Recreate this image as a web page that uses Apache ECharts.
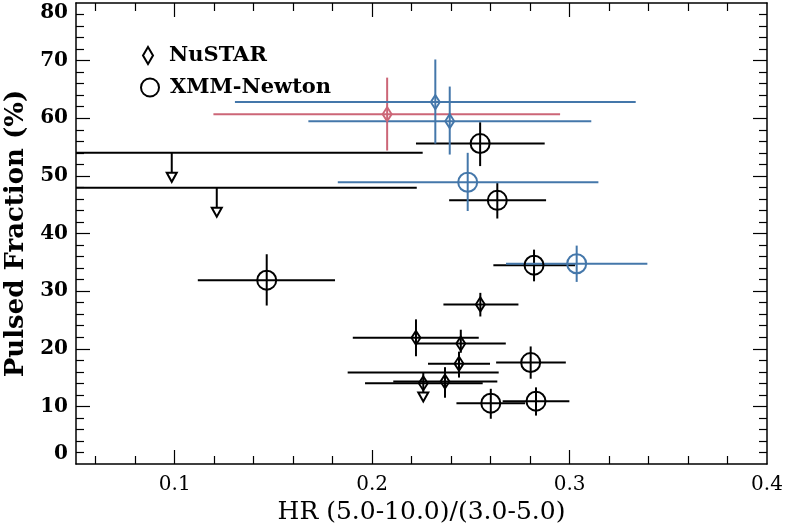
<!DOCTYPE html>
<html>
<head>
<meta charset="utf-8">
<script src="https://cdn.jsdelivr.net/npm/echarts@6/dist/echarts.min.js"></script>
<style>html,body{margin:0;padding:0;background:#fff;}#c{width:789px;height:527px;}</style>
</head>
<body>
<div id="c"></div>
<script>
// ---- data: [x, y, xLow, xHigh, yLow, yHigh] ----
const xTickLabels = [0.1, 0.2, 0.3, 0.4];
const yTickLabels = [0, 10, 20, 30, 40, 50, 60, 70, 80];

const nustarBlack = [
  [0.2548, 27.7, 0.2361, 0.2741, 25.6, 29.7],
  [0.2222, 21.9, 0.1902, 0.2540, 18.7, 25.1],
  [0.2449, 20.9, 0.2226, 0.2677, 19.3, 23.3],
  [0.2440, 17.4, 0.2283, 0.2597, 15.0, 19.5],
  [0.2369, 14.3, 0.2107, 0.2634, 11.5, 16.8],
  [0.2259, 14.0, 0.1964, 0.2560, 14.0, 14.0]
];
const nustarBlue = [
  [0.2320, 62.8, 0.1305, 0.3335, 55.6, 70.2],
  [0.2393, 59.5, 0.1677, 0.3110, 53.7, 65.5]
];
const nustarRed = [
  [0.2076, 60.7, 0.1196, 0.2952, 54.4, 67.05]
];
const xmmBlack = [
  [0.2547, 55.6, 0.2222, 0.2874, 51.7, 59.3],
  [0.2634, 45.75, 0.2390, 0.2881, 42.6, 48.75],
  [0.1466, 31.9, 0.1117, 0.1812, 27.5, 36.4],
  [0.2820, 34.5, 0.2614, 0.3028, 31.7, 37.2],
  [0.2803, 17.6, 0.2628, 0.2981, 14.8, 20.4],
  [0.2601, 10.56, 0.2427, 0.2775, 7.85, 13.05],
  [0.2830, 10.9, 0.2661, 0.2999, 8.4, 13.3]
];
const xmmBlue = [
  [0.2484, 48.9, 0.1826, 0.3146, 43.9, 54.0],
  [0.3036, 34.75, 0.2678, 0.3394, 31.6, 37.9]
];
// upper limits: [x, yLimit, xLow, xHigh]
const upperLimits = [
  [0.0985, 54.0, -0.0285, 0.2256],
  [0.1213, 47.95, 0.0200, 0.2226],
  [0.2259, 15.9, 0.1876, 0.2641]
];

// ---- styles ----
const BLACK = '#000000', BLUE = '#4477aa', RED = '#cc6677';
const FONT = 'DejaVu Serif';
const LW = 2;

function errSeries(data, color) {
  return {
    type: 'custom', clip: true, xAxisIndex: 0, yAxisIndex: 0,
    encode: { x: [0, 2, 3], y: [1, 4, 5] },
    data: data, silent: true, z: 2,
    renderItem: function (params, api) {
      const x = api.value(0), y = api.value(1);
      const a = api.coord([api.value(2), y]), b = api.coord([api.value(3), y]);
      const c = api.coord([x, api.value(4)]), d = api.coord([x, api.value(5)]);
      const st = { stroke: color, lineWidth: LW, fill: null };
      return { type: 'group', children: [
        { type: 'line', shape: { x1: a[0], y1: a[1], x2: b[0], y2: b[1] }, style: st },
        { type: 'line', shape: { x1: c[0], y1: c[1], x2: d[0], y2: d[1] }, style: st }
      ]};
    }
  };
}
function markSeries(name, data, color, symbol, size) {
  return {
    name: name, type: 'scatter', xAxisIndex: 0, yAxisIndex: 0, z: 3,
    symbol: symbol, symbolSize: size, silent: true,
    data: data.map(d => [d[0], d[1]]),
    itemStyle: { color: 'rgba(0,0,0,0)', borderColor: color, borderWidth: LW, opacity: 1 }
  };
}
const ulSeries = {
  type: 'custom', clip: true, xAxisIndex: 0, yAxisIndex: 0, z: 2, silent: true,
  encode: { x: [0, 2, 3], y: 1 },
  data: upperLimits,
  renderItem: function (params, api) {
    const x = api.value(0), y = api.value(1);
    const a = api.coord([api.value(2), y]), b = api.coord([api.value(3), y]);
    const p = api.coord([x, y]);
    const shaft = 20, head = 9, hw = 5;
    const st = { stroke: BLACK, lineWidth: LW, fill: null };
    return { type: 'group', children: [
      { type: 'line', shape: { x1: a[0], y1: a[1], x2: b[0], y2: b[1] }, style: st },
      { type: 'line', shape: { x1: p[0], y1: p[1], x2: p[0], y2: p[1] + shaft }, style: st },
      { type: 'polygon', shape: { points: [[p[0] - hw, p[1] + shaft], [p[0] + hw, p[1] + shaft], [p[0], p[1] + shaft + head]] },
        style: { stroke: BLACK, lineWidth: LW, fill: '#ffffff' } }
    ]};
  }
};

// ---- axes ----
const xMinor = [], yMinor = [];
for (let i = 3; i <= 19; i++) { if (i % 5 !== 0) xMinor.push(+(i * 0.02).toFixed(2)); }
for (let i = 1; i <= 39; i++) { if (i % 5 !== 0) yMinor.push(i * 2); }
const xMajorTicks = [0.1, 0.2, 0.3];
const yMajorTicks = [10, 20, 30, 40, 50, 60, 70];

function xAx(pos, ticks, len, showLine, withLabels) {
  const ax = {
    type: 'value', position: pos, min: 0.05, max: 0.4, gridIndex: 0,
    splitLine: { show: false },
    axisLine: { show: showLine, onZero: false, lineStyle: { color: BLACK, width: 1.5 } },
    axisTick: { show: true, inside: true, length: len, customValues: ticks, lineStyle: { color: BLACK, width: 1.2 } },
    axisLabel: { show: false }
  };
  if (withLabels) {
    ax.axisLabel = { show: true, customValues: xTickLabels, margin: 11, color: BLACK,
      fontFamily: FONT, fontSize: 20, formatter: v => String(v) };
    ax.name = 'HR (5.0-10.0)/(3.0-5.0)';
    ax.nameLocation = 'middle';
    ax.nameGap = 31;
    ax.nameTextStyle = { fontFamily: FONT, fontSize: 25, color: BLACK };
  }
  return ax;
}
function yAx(pos, ticks, len, showLine, withLabels) {
  const ax = {
    type: 'value', position: pos, min: 0, max: 80, gridIndex: 0,
    splitLine: { show: false },
    axisLine: { show: showLine, onZero: false, lineStyle: { color: BLACK, width: 1.5 } },
    axisTick: { show: true, inside: true, length: len, customValues: ticks, lineStyle: { color: BLACK, width: 1.2 } },
    axisLabel: { show: false }
  };
  if (withLabels) {
    ax.axisLabel = { show: true, customValues: yTickLabels, margin: 8, color: BLACK,
      fontFamily: FONT, fontSize: 20, fontWeight: 'bold',
      verticalAlignMinLabel: 'bottom', verticalAlignMaxLabel: 'top',
      formatter: v => String(v) };
    ax.name = 'Pulsed Fraction (%)';
    ax.nameLocation = 'middle';
    ax.nameGap = 36;
    ax.nameTextStyle = { fontFamily: FONT, fontSize: 26, fontWeight: 'bold', color: BLACK };
  }
  return ax;
}

const chart = echarts.init(document.getElementById('c'), null, { renderer: 'canvas' });
chart.setOption({
  backgroundColor: '#ffffff',
  animation: false,
  grid: { left: 76, right: 22, top: 3, bottom: 63, containLabel: false, outerBoundsMode: 'none' },
  xAxis: [
    xAx('bottom', xMajorTicks, 14, true, true),
    xAx('bottom', xMinor, 8, false, false),
    xAx('top', xMajorTicks, 14, true, false),
    xAx('top', xMinor, 8, false, false)
  ],
  yAxis: [
    yAx('left', yMajorTicks, 14, true, true),
    yAx('left', yMinor, 8, false, false),
    yAx('right', yMajorTicks, 14, true, false),
    yAx('right', yMinor, 8, false, false)
  ],
  legend: [
    { data: [{ name: 'NuSTAR', icon: 'diamond' }], left: 137, top: 40, orient: 'vertical',
      itemWidth: 10, itemHeight: 17, selectedMode: false,
      itemStyle: { color: 'rgba(0,0,0,0)', borderColor: BLACK, borderWidth: LW },
      textStyle: { fontFamily: FONT, fontSize: 21, fontWeight: 'bold', color: BLACK, padding: [0, 0, 0, 11] } },
    { data: [{ name: 'XMM-Newton', icon: 'circle' }], left: 135, top: 72, orient: 'vertical',
      itemWidth: 18, itemHeight: 18, selectedMode: false,
      itemStyle: { color: 'rgba(0,0,0,0)', borderColor: BLACK, borderWidth: LW },
      textStyle: { fontFamily: FONT, fontSize: 21, fontWeight: 'bold', color: BLACK, padding: [0, 0, 0, 6] } }
  ],
  series: [
    errSeries(xmmBlack, BLACK),
    errSeries(nustarBlack, BLACK),
    ulSeries,
    errSeries(nustarRed, RED),
    errSeries(nustarBlue, BLUE),
    errSeries(xmmBlue, BLUE),
    markSeries('XMM-Newton', xmmBlack, BLACK, 'circle', 19),
    markSeries('NuSTAR', nustarBlack, BLACK, 'diamond', [9, 14]),
    markSeries('NuSTAR (red)', nustarRed, RED, 'diamond', [9, 14]),
    markSeries('NuSTAR (blue)', nustarBlue, BLUE, 'diamond', [9, 14]),
    markSeries('XMM-Newton (blue)', xmmBlue, BLUE, 'circle', 19)
  ]
});
</script>
</body>
</html>
